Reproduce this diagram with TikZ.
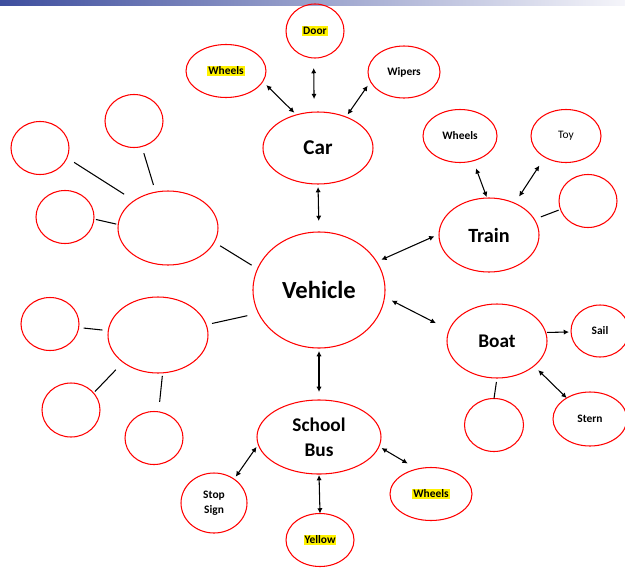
\documentclass[tikz,border=0pt]{standalone}
\usepackage{fontspec}
\setmainfont{Carlito}
\usetikzlibrary{shapes.geometric,arrows.meta}
\newlength\px
\setlength\px{0.02cm}
\setlength{\fboxsep}{0.5pt}
\newcommand{\hl}[1]{\colorbox{yellow}{#1}}
\definecolor{barblue}{RGB}{62,78,158}
\definecolor{barwhite}{RGB}{245,245,250}
\tikzset{
  bubble/.style={ellipse, draw=red, line width=0.6pt, inner sep=0pt, outer sep=0pt},
  sz/.style 2 args={minimum width=#1\px, minimum height=#2\px},
  lbl/.style={font=\bfseries\fontsize{6.5}{8.5}\selectfont, align=center},
  big/.style={font=\bfseries\fontsize{#1}{14}\selectfont, align=center},
  link/.style={line width=0.6pt},
  twoway/.style={link, {Latex[length=3pt,width=3pt]}-{Latex[length=3pt,width=3pt]}},
  oneway/.style={link, -{Latex[length=3pt,width=3pt]}}
}

\begin{document}
\begin{tikzpicture}[x=0.02cm, y=-0.02cm]
  \useasboundingbox (0,0) rectangle (625,568);
  \clip (0,0) rectangle (625,568);
  \shade[left color=barblue, right color=barwhite] (0,0) rectangle (625,5);

  \node[bubble, sz={132}{116}, big=14] (vehicle) at (319,290) {Vehicle};

  \node[bubble, sz={110}{72}, big=12] (car) at (318,148) {Car};
  \node[bubble, sz={58}{54}, lbl] (door) at (315,31) {\hl{Door}};
  \node[bubble, sz={80}{53}, lbl] (cwheels) at (226,71) {\hl{Wheels}};
  \node[bubble, sz={72}{52}, lbl] (wipers) at (404,72) {Wipers};

  \node[bubble, sz={100}{74}, big=11.5] (train) at (489,235) {Train};
  \node[bubble, sz={74}{53}, lbl] (twheels) at (460,136) {Wheels};
  \node[bubble, sz={70}{53}, lbl, font=\fontsize{6.5}{8.5}\selectfont] (toy) at (566,136) {Toy};
  \node[bubble, sz={58}{53}] (tside) at (588,201) {};

  \node[bubble, sz={100}{74}, big=11] (boat) at (497,341) {Boat};
  \node[bubble, sz={58}{52}, lbl] (sail) at (600,331) {Sail};
  \node[bubble, sz={74}{54}, lbl] (stern) at (590,419) {Stern};
  \node[bubble, sz={59}{53}] (bside) at (494,425) {};

  \node[bubble, sz={124}{74}, big=11] (bus) at (319,437) {School\\Bus};
  \node[bubble, sz={66}{60}, lbl] (stop) at (214,503) {Stop\\Sign};
  \node[bubble, sz={68}{53}, lbl] (yellow) at (320,540) {\hl{Yellow}};
  \node[bubble, sz={82}{53}, lbl] (bwheels) at (431,494) {\hl{Wheels}};

  \node[bubble, sz={100}{74}] (ul) at (168,228) {};
  \node[bubble, sz={58}{53}] (ul1) at (134,121) {};
  \node[bubble, sz={58}{53}] (ul2) at (40,148) {};
  \node[bubble, sz={58}{53}] (ul3) at (65,217) {};

  \node[bubble, sz={100}{76}] (ll) at (158,335) {};
  \node[bubble, sz={58}{53}] (ll1) at (50,324) {};
  \node[bubble, sz={58}{54}] (ll2) at (71,410) {};
  \node[bubble, sz={58}{53}] (ll3) at (154,438) {};

  \draw[twoway, shorten <=5\px, shorten >=3\px] (cwheels.-16) -- (car.123);
  \draw[twoway, shorten <=10\px, shorten >=13\px] (door.-93) -- (car.96);
  \draw[twoway, shorten <=5\px, shorten >=3\px] (wipers.196) -- (car.48);
  \draw[twoway, shorten <=3\px, shorten >=11\px] (car.-90) -- (vehicle.90);

  \draw[twoway, shorten <=5\px, shorten >=5\px] (vehicle.26) -- (train.179);
  \draw[twoway, shorten <=8\px, shorten >=15\px] (vehicle.-6) -- (boat.167);
  \draw[twoway, shorten <=3\px, shorten >=8\px] (vehicle.-90) -- (bus.90);

  \draw[twoway, shorten <=8\px, shorten >=1\px] (twheels.-62) -- (train.93);
  \draw[twoway, shorten <=10\px, shorten >=8\px] (toy.-135) -- (train.51);
  \draw[link, shorten <=7\px, shorten >=2\px] (train.19) -- (tside.197);

  \draw[oneway, shorten <=1.5\px, shorten >=2\px] (boat.10) -- (sail.182);
  \draw[twoway, shorten <=6\px] (boat.-34) -- (stern.138);
  \draw[link, shorten <=4\px] (boat.-90) -- (bside.90);

  \draw[twoway, shorten <=3\px, shorten >=3\px] (bus.187) -- (stop.50);
  \draw[twoway, shorten <=1\px] (bus.-90) -- (yellow.90);
  \draw[twoway, shorten <=3\px, shorten >=11\px] (bus.-9) -- (bwheels.119);

  \draw[link, shorten <=7\px, shorten >=7.5\px] (ul1.-73) -- (ul.109);
  \draw[link, shorten <=8.5\px, shorten >=12\px] (ul2.-20) -- (ul.141);
  \draw[link, shorten <=2\px, shorten >=2\px] (ul3.-4) -- (ul.176);
  \draw[link, shorten <=7\px, shorten >=7\px] (ul.-17) -- (vehicle.161);

  \draw[link, shorten <=6\px, shorten >=11.5\px] (ll.12) -- (vehicle.201);
  \draw[link, shorten <=5\px, shorten >=6\px] (ll1.-7) -- (ll.175);
  \draw[link, shorten <=2\px, shorten >=10.5\px] (ll2.37) -- (ll.218);
  \draw[link, shorten <=10\px, shorten >=3\px] (ll3.80) -- (ll.-83);
\end{tikzpicture}
\end{document}
